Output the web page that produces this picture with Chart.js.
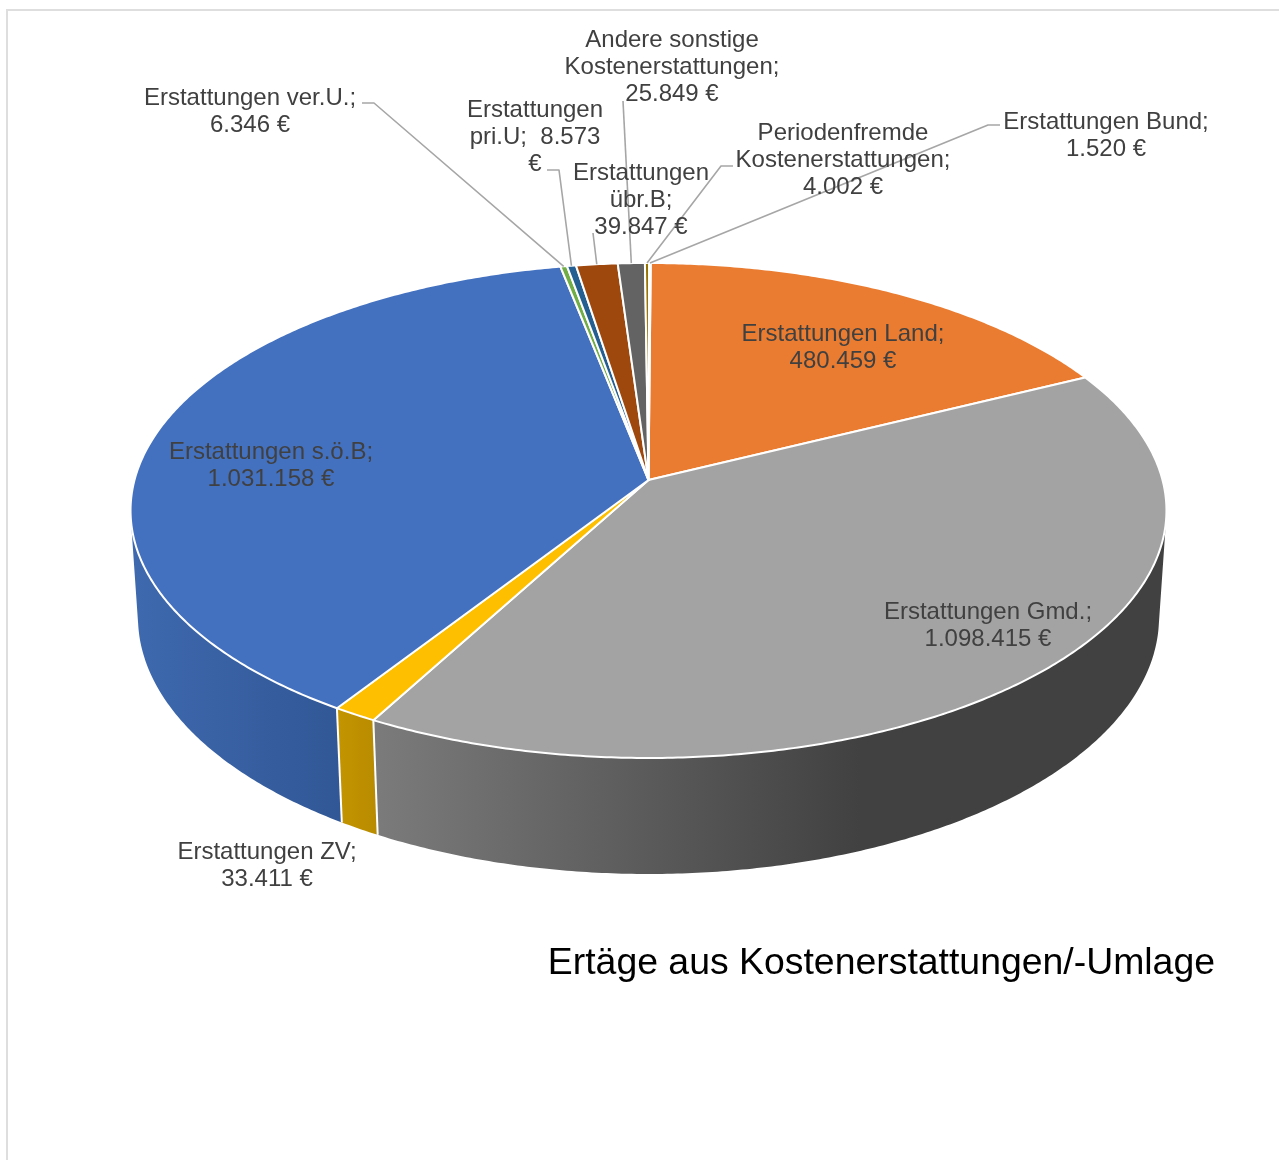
<!DOCTYPE html>
<html lang="de">
<head>
<meta charset="utf-8">
<title>Ertäge aus Kostenerstattungen/-Umlage</title>
<script src="https://cdn.jsdelivr.net/npm/chart.js@4/dist/chart.umd.min.js"></script>
<style>
  html, body { margin: 0; padding: 0; background: #fff; }
  #wrap { position: relative; width: 1279px; height: 1160px; overflow: hidden; }
  #frame { position: absolute; left: 6px; top: 9px; width: 1273px; height: 1151px; border-left: 2px solid #dedede; border-top: 2px solid #dedede; box-sizing: border-box; pointer-events: none; }
  canvas { position: absolute; left: 0; top: 0; }
</style>
</head>
<body>
<div id="wrap"><canvas id="c" width="1279" height="1160"></canvas><div id="frame"></div></div>
<script>
const chartTitle = 'Ertäge aus Kostenerstattungen/-Umlage';
const categories = ['Erstattungen Land', 'Erstattungen Gmd.', 'Erstattungen ZV', 'Erstattungen s.ö.B', 'Erstattungen ver.U.', 'Erstattungen pri.U', 'Erstattungen übr.B', 'Andere sonstige Kostenerstattungen', 'Periodenfremde Kostenerstattungen', 'Erstattungen Bund'];
const values = [480459, 1098415, 33411, 1031158, 6346, 8573, 39847, 25849, 4002, 1520];
const sliceColors = ['#ea7c31', '#a3a3a3', '#fdbf00', '#4371c0', '#70ad47', '#255e91', '#9e480e', '#636363', '#997300', '#4472c4'];
const labelLines = [
  ['Erstattungen Land;', '480.459 €'],
  ['Erstattungen Gmd.;', '1.098.415 €'],
  ['Erstattungen ZV;', '33.411 €'],
  ['Erstattungen s.ö.B;', '1.031.158 €'],
  ['Erstattungen ver.U.;', '6.346 €'],
  ['Erstattungen', 'pri.U;  8.573', '€'],
  ['Erstattungen', 'übr.B;', '39.847 €'],
  ['Andere sonstige', 'Kostenerstattungen;', '25.849 €'],
  ['Periodenfremde', 'Kostenerstattungen;', '4.002 €'],
  ['Erstattungen Bund;', '1.520 €']
];

// Layout only: perspective camera, label anchors, leader elbows.
const cam = { cx: 648.5, cy: 480, R: 514, a: 184.6, k: -0.1232, c: 114.2, m: 0.0143 };
const labelAnchor = [[843,334],[988,612],[267,852],[271,452],[250,98],[535,110],[641,173],[672,40],[843,133],[1106,122]];
const leaderPath = [null, null, null, null,
  [[362,103],[374,103]], [[547,170],[559,170]], [[593,233]], [[623,101]],
  [[733,166],[721,166]], [[1000,125],[988,125]]];
const wallPaint = {
  1: [375, '#7b7b7b', 860, '#414141'],
  2: [340, '#c39400', 378, '#b88a00'],
  3: [135, '#3e69ae', 340, '#315796']
};
const FONT = '24px "Liberation Sans", Arial, sans-serif';

function project(angle, z) {
  const x = Math.cos(angle), y = Math.sin(angle);
  const w = 1 + cam.k * y + cam.m * z;
  return [cam.cx + cam.R * x / w, (cam.cy + cam.a * y + cam.c * z) / w];
}

function addQuad(ctx, pts) {
  let area = 0;
  pts.forEach((p, i) => {
    const q = pts[(i + 1) % pts.length];
    area += p[0] * q[1] - q[0] * p[1];
  });
  const ordered = area < 0 ? pts.slice().reverse() : pts;
  ctx.moveTo(ordered[0][0], ordered[0][1]);
  for (let i = 1; i < ordered.length; i++) ctx.lineTo(ordered[i][0], ordered[i][1]);
  ctx.closePath();
}

const pie3d = {
  id: 'pie3d',
  beforeDatasetsDraw(chart) {
    const ctx = chart.ctx;
    const arcs = chart.getDatasetMeta(0).data;
    const STEP = Math.PI / 360;
    ctx.save();
    ctx.lineJoin = 'round';

    // Side wall, built from the arcs' angles. All quads share one winding so the union has no seams.
    arcs.forEach((arc, i) => {
      let fill = sliceColors[i];
      if (wallPaint[i]) {
        const p = wallPaint[i];
        fill = ctx.createLinearGradient(p[0], 0, p[2], 0);
        fill.addColorStop(0, p[1]);
        fill.addColorStop(1, p[3]);
      }
      ctx.fillStyle = fill;
      ctx.beginPath();
      for (let a = arc.startAngle; a < arc.endAngle; a += STEP) {
        const b = Math.min(a + STEP, arc.endAngle);
        addQuad(ctx, [project(a, 0), project(b, 0), project(b, 1), project(a, 1)]);
      }
      ctx.fill('nonzero');
    });

    // White seams on the wall.
    ctx.strokeStyle = '#ffffff';
    ctx.lineWidth = 2;
    arcs.forEach(arc => {
      const t = project(arc.startAngle, 0), b = project(arc.startAngle, 1);
      ctx.beginPath();
      ctx.moveTo(t[0], t[1]);
      ctx.lineTo(b[0], b[1]);
      ctx.stroke();
    });

    // Top face.
    arcs.forEach((arc, i) => {
      ctx.beginPath();
      ctx.moveTo(cam.cx, cam.cy);
      for (let a = arc.startAngle; a < arc.endAngle; a += STEP) {
        const p = project(a, 0);
        ctx.lineTo(p[0], p[1]);
      }
      const e = project(arc.endAngle, 0);
      ctx.lineTo(e[0], e[1]);
      ctx.closePath();
      ctx.fillStyle = sliceColors[i];
      ctx.fill();
      ctx.strokeStyle = '#ffffff';
      ctx.lineWidth = 2;
      ctx.stroke();
    });

    // Leader lines end on the middle of their slice.
    ctx.strokeStyle = '#a6a6a6';
    ctx.lineWidth = 1.6;
    arcs.forEach((arc, i) => {
      if (!leaderPath[i]) return;
      const end = project((arc.startAngle + arc.endAngle) / 2, 0);
      ctx.beginPath();
      leaderPath[i].forEach((p, n) => n ? ctx.lineTo(p[0], p[1]) : ctx.moveTo(p[0], p[1]));
      ctx.lineTo(end[0], end[1]);
      ctx.stroke();
    });

    // Data labels.
    ctx.font = FONT;
    ctx.fillStyle = '#404040';
    ctx.textAlign = 'center';
    ctx.textBaseline = 'middle';
    labelLines.forEach((lines, i) => {
      const at = labelAnchor[i];
      lines.forEach((line, n) => ctx.fillText(line, at[0], at[1] + n * 27.4));
    });
    ctx.restore();
    return false;
  }
};

new Chart(document.getElementById('c'), {
  type: 'pie',
  data: {
    labels: categories,
    datasets: [{ data: values, backgroundColor: sliceColors, borderColor: '#ffffff', borderWidth: 2 }]
  },
  options: {
    responsive: false,
    devicePixelRatio: 1,
    animation: false,
    rotation: 0.28,
    layout: { padding: { right: 64 } },
    plugins: {
      legend: { display: false },
      tooltip: { enabled: false },
      title: {
        display: true,
        text: chartTitle,
        position: 'bottom',
        align: 'end',
        color: '#000000',
        font: { family: '"Liberation Sans", Arial, sans-serif', size: 37.4, weight: 'normal' },
        padding: { top: 0, bottom: 174 }
      }
    }
  },
  plugins: [pie3d]
});
</script>
</body>
</html>
